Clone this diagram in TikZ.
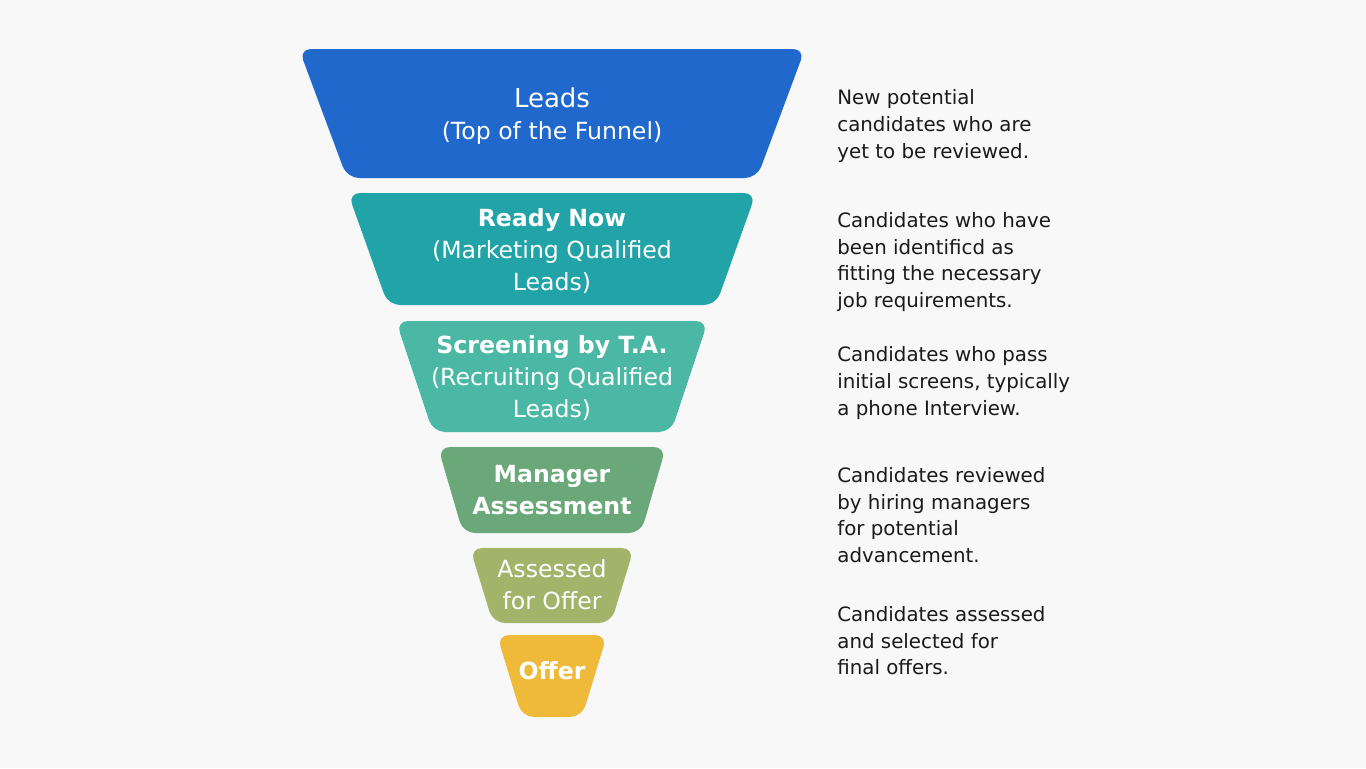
\documentclass[tikz,border=0pt]{standalone}
\usepackage{fontspec}
\setmainfont{DejaVu Sans}
\usetikzlibrary{positioning}

\definecolor{pagebg}{RGB}{248,248,248}
\definecolor{leadsblue}{RGB}{32,104,204}
\definecolor{readyteal}{RGB}{33,163,168}
\definecolor{screengreen}{RGB}{74,184,165}
\definecolor{mgrgreen}{RGB}{106,168,122}
\definecolor{assessolive}{RGB}{161,180,106}
\definecolor{offeryellow}{RGB}{239,185,58}
\definecolor{desctext}{RGB}{26,26,26}

\begin{document}
\begin{tikzpicture}[
    x=0.5pt, y=-0.5pt,
    seg/.style={rounded corners=6pt},
    lbl/.style={text=white, font=\fontsize{11.8}{16}\selectfont, align=center, inner sep=0pt},
    desc/.style={anchor=west, align=left, font=\fontsize{9.9}{13.3}\selectfont, text=desctext, inner sep=0pt},
]

% ── Page ──
\fill[pagebg] (0,0) rectangle (1366,768);

% ── Funnel segments (centre x = 552) ──
\fill[seg, leadsblue]   (299,49)  -- (805,49)  -- (757,178) -- (347,178) -- cycle;
\fill[seg, readyteal]   (348,193) -- (756,193) -- (716,305) -- (388,305) -- cycle;
\fill[seg, screengreen] (396,321) -- (708,321) -- (671,432) -- (433,432) -- cycle;
\fill[seg, mgrgreen]    (438,447) -- (666,447) -- (641,533) -- (463,533) -- cycle;
\fill[seg, assessolive] (470,548) -- (634,548) -- (611,623) -- (493,623) -- cycle;
\fill[seg, offeryellow] (497,635) -- (607,635) -- (582,717) -- (522,717) -- cycle;

% ── Segment labels ──
\node[lbl] (leads)  at (552,116) {{\fontsize{13}{16.5}\selectfont Leads}\\(Top of the Funnel)};
\node[lbl] (ready)  at (552,251) {\textbf{Ready Now}\\(Marketing Qualified\\Leads)};
\node[lbl] (screen) at (552,378) {\textbf{Screening by T.A.}\\(Recruiting Qualified\\Leads)};
\node[lbl] (mgr)    at (552,490) {\textbf{Manager}\\\textbf{Assessment}};
\node[lbl] (assess) at (552,585) {Assessed\\for Offer};
\node[lbl] (offer)  at (552,671) {\textbf{Offer}};

% ── Descriptions ──
\node[desc] (dleads)  at (837,126) {New potential\\candidates who are\\yet to be reviewed.};
\node[desc] (dready)  at (837,262) {Candidates who have\\been identificd as\\fitting the necessary\\job requirements.};
\node[desc] (dscreen) at (837,383) {Candidates who pass\\initial screens, typically\\a phone Interview.};
\node[desc] (dmgr)    at (837,515) {Candidates reviewed\\by hiring managers\\for potential\\advancement.};
\node[desc] (doffer)  at (837,641) {Candidates assessed\\and selected for\\final offers.};

\end{tikzpicture}
\end{document}
